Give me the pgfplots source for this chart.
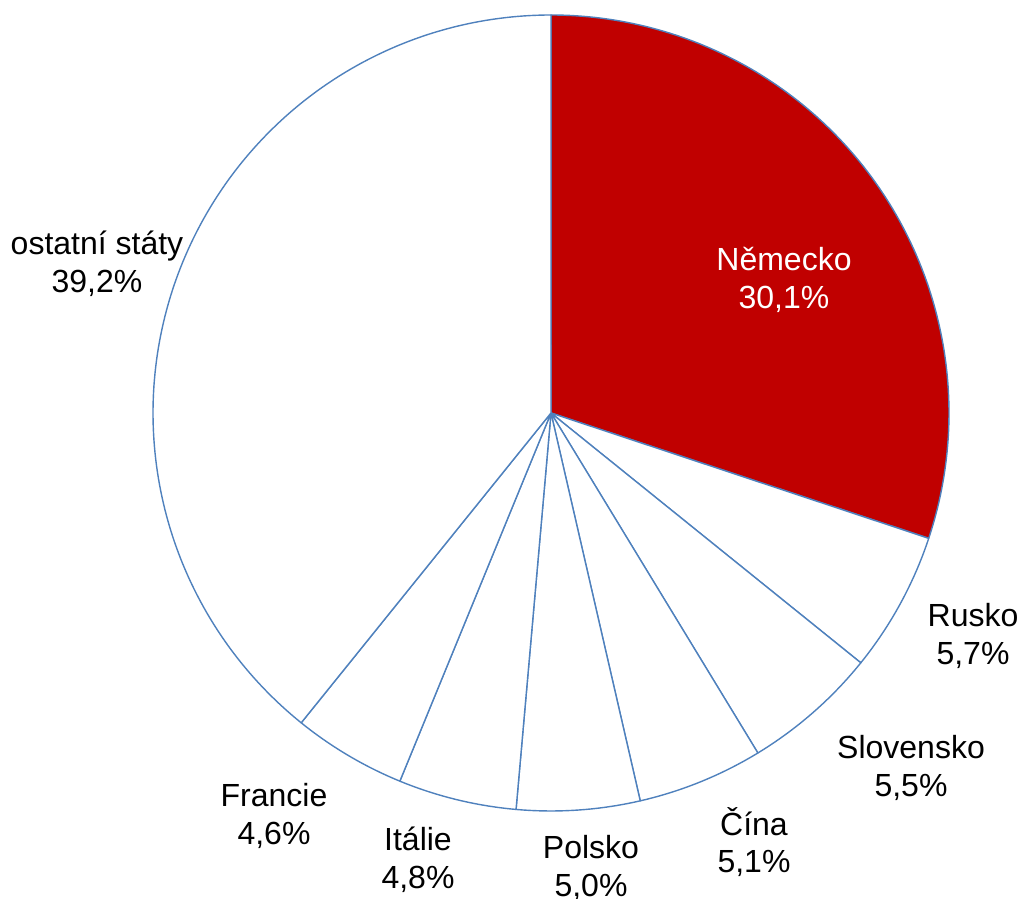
\documentclass[border=0pt]{standalone}
\usepackage{pgfplots}
\pgfplotsset{compat=1.18}
\usepackage{fontspec}
\setmainfont{Liberation Sans}
\definecolor{pieblue}{HTML}{4F81BD}
\definecolor{piered}{HTML}{C00000}
% values in percent, clockwise from top
\def\vA{30.1}% Německo
\def\vB{5.7}% Rusko
\def\vC{5.5}% Slovensko
\def\vD{5.1}% Čína
\def\vE{5.0}% Polsko
\def\vF{4.8}% Itálie
\def\vG{4.6}% Francie
\def\vH{39.2}% ostatní státy
\begin{document}
\begin{tikzpicture}
\begin{axis}[
  scale only axis, width=512.5pt, height=449.5pt,
  xmin=0, xmax=1025, ymin=0, ymax=899,
  axis lines=none, clip=false,
  every axis plot/.append style={line width=0.7pt, draw=pieblue, line join=round},
]
\pgfmathsetmacro\cA{0}
\pgfmathsetmacro\cB{\cA+\vA}
\pgfmathsetmacro\cC{\cB+\vB}
\pgfmathsetmacro\cD{\cC+\vC}
\pgfmathsetmacro\cE{\cD+\vD}
\pgfmathsetmacro\cF{\cE+\vE}
\pgfmathsetmacro\cG{\cF+\vF}
\pgfmathsetmacro\cH{\cG+\vG}
\pgfmathsetmacro\cI{\cH+\vH}
\addplot[fill=piered, domain={3.6*\cA}:{3.6*\cB}, samples=120] ({551+398*sin(x)},{486+398*cos(x)}) -- (axis cs:551,486) -- cycle;
\addplot[fill=white, domain={3.6*\cB}:{3.6*\cC}, samples=40] ({551+398*sin(x)},{486+398*cos(x)}) -- (axis cs:551,486) -- cycle;
\addplot[fill=white, domain={3.6*\cC}:{3.6*\cD}, samples=40] ({551+398*sin(x)},{486+398*cos(x)}) -- (axis cs:551,486) -- cycle;
\addplot[fill=white, domain={3.6*\cD}:{3.6*\cE}, samples=40] ({551+398*sin(x)},{486+398*cos(x)}) -- (axis cs:551,486) -- cycle;
\addplot[fill=white, domain={3.6*\cE}:{3.6*\cF}, samples=40] ({551+398*sin(x)},{486+398*cos(x)}) -- (axis cs:551,486) -- cycle;
\addplot[fill=white, domain={3.6*\cF}:{3.6*\cG}, samples=40] ({551+398*sin(x)},{486+398*cos(x)}) -- (axis cs:551,486) -- cycle;
\addplot[fill=white, domain={3.6*\cG}:{3.6*\cH}, samples=40] ({551+398*sin(x)},{486+398*cos(x)}) -- (axis cs:551,486) -- cycle;
\addplot[fill=white, domain={3.6*\cH}:{3.6*\cI}, samples=150] ({551+398*sin(x)},{486+398*cos(x)}) -- (axis cs:551,486) -- cycle;
\tikzset{lab/.style={font=\fontsize{16}{18}\selectfont, align=center, inner sep=0pt}}
\node[lab, text=white] at (axis cs:784,619) {Německo\\[0.8pt]30,1\%};
\node[lab] at (axis cs:973,263) {Rusko\\[0.8pt]5,7\%};
\node[lab] at (axis cs:911,131) {Slovensko\\[0.8pt]5,5\%};
\node[lab] at (axis cs:754,57) {Čína\\[0.8pt]5,1\%};
\node[lab] at (axis cs:591,31) {Polsko\\[0.8pt]5,0\%};
\node[lab] at (axis cs:418,39) {Itálie\\[0.8pt]4,8\%};
\node[lab] at (axis cs:274,83) {Francie\\[0.8pt]4,6\%};
\node[lab] at (axis cs:97,635) {ostatní státy\\[0.8pt]39,2\%};
\end{axis}
\pgfresetboundingbox
\path (current axis.south west) rectangle (current axis.north east);
\end{tikzpicture}
\end{document}
